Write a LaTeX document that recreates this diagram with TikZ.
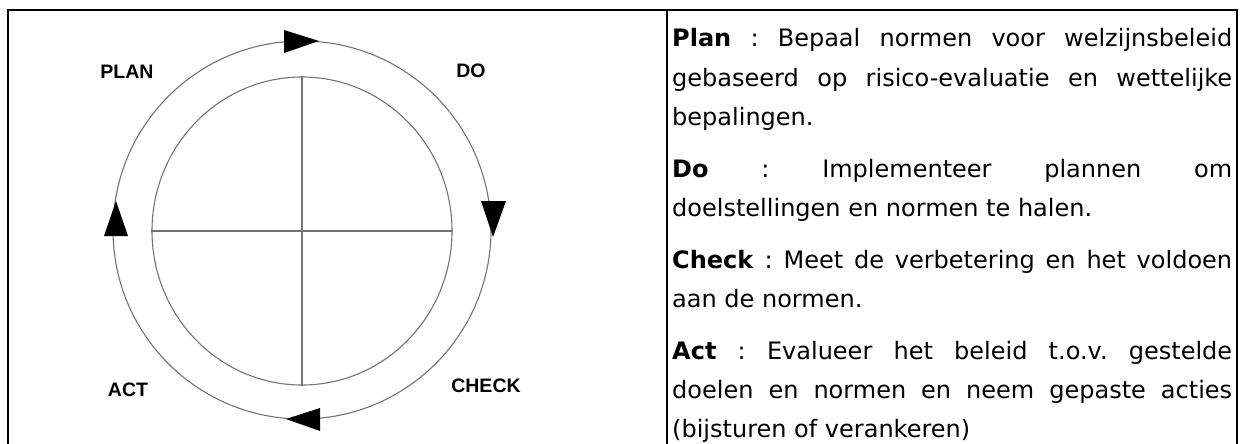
\documentclass[tikz,border=0pt]{standalone}
\usepackage{fontspec}
\setmainfont{DejaVu Sans}
\newfontfamily\lblfont{Liberation Sans}
\usetikzlibrary{shapes.geometric}
\frenchspacing
\tikzset{
  frame/.style={line width=2.5pt, black},
  ring/.style={draw=black!55, line width=1.1pt},
  tip/.style={fill=black},
  lbl/.style={font=\lblfont\bfseries\fontsize{19.5}{19.5}\selectfont, inner sep=0pt},
  txt/.style={font=\fontsize{24}{24}\selectfont, inner sep=0pt, anchor=base west}
}
\newcommand{\jline}[1]{\makebox[560pt][s]{#1}}
\begin{document}
\begin{tikzpicture}[x=1pt,y=-1pt]
\useasboundingbox (0,0) rectangle (1244,444);
% table
\draw[frame] (8,444) -- (8,10) -- (1237,10) -- (1237,444);
\draw[frame] (667,10) -- (667,444);
% cycle
\node[ring, circle, minimum size=378pt, inner sep=0pt] (outer) at (302,230) {};
\node[ring, ellipse, minimum width=300pt, minimum height=308pt, inner sep=0pt] (inner) at (302,231) {};
\draw[ring] (inner.west) -- (inner.east);
\draw[ring] (inner.north) -- (inner.south);
% arrow heads
\fill[tip] (284,30) -- (319,41) -- (284,53) -- cycle;
\fill[tip] (481,201) -- (506,201) -- (493,237) -- cycle;
\fill[tip] (320,408) -- (286,419) -- (320,431) -- cycle;
\fill[tip] (104,236) -- (128,236) -- (116,201) -- cycle;
% labels
\node[lbl] (plan) at (127,72) {PLAN};
\node[lbl] (do) at (471,71) {DO};
\node[lbl] (act) at (128,390) {ACT};
\node[lbl] (check) at (486,386) {CHECK};
% text
\node[txt] (p1a) at (672,47) {\jline{\textbf{Plan} : Bepaal normen voor welzijnsbeleid}};
\node[txt] (p1b) at (672,86) {\jline{gebaseerd op risico-evaluatie en wettelijke}};
\node[txt] (p1c) at (672,125) {bepalingen.};
\node[txt] (p2a) at (672,177) {\jline{\textbf{Do} : Implementeer plannen om}};
\node[txt] (p2b) at (672,216) {doelstellingen en normen te halen.};
\node[txt] (p3a) at (672,268) {\jline{\textbf{Check} : Meet de verbetering en het voldoen}};
\node[txt] (p3b) at (672,307) {aan de normen.};
\node[txt] (p4a) at (672,359) {\jline{\textbf{Act} : Evalueer het beleid t.o.v. gestelde}};
\node[txt] (p4b) at (672,398) {\jline{doelen en normen en neem gepaste acties}};
\node[txt] (p4c) at (672,437) {(bijsturen of verankeren)};
\end{tikzpicture}
\end{document}
